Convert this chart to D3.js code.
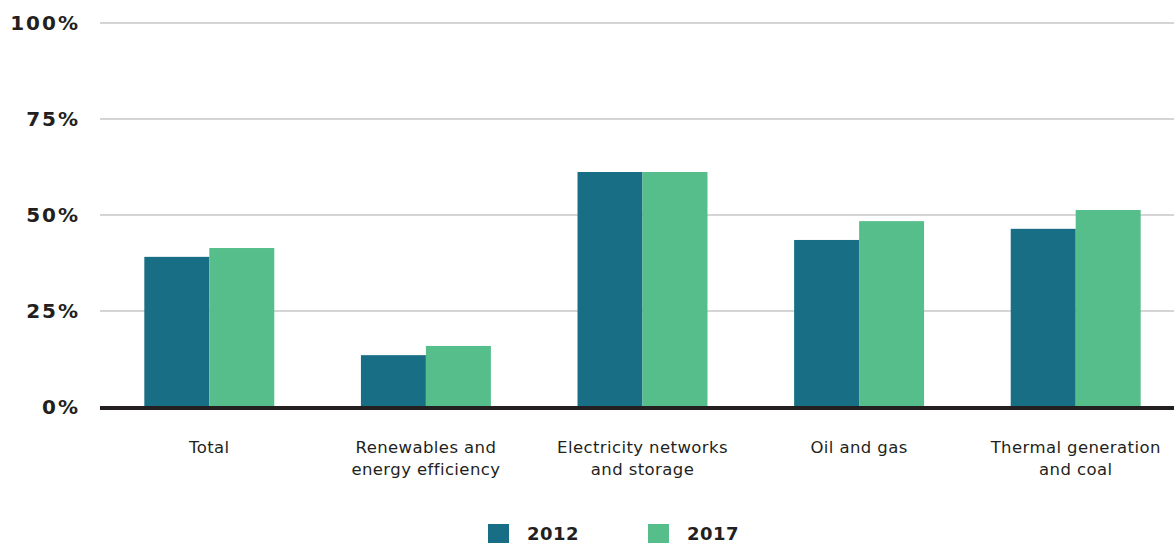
<!DOCTYPE html>
<html><head><meta charset="utf-8">
<script src="https://cdn.jsdelivr.net/npm/d3@7"></script>
<style>
body{margin:0;background:#fff;}
svg{display:block;}
</style></head><body>
<svg id="chart" width="1174" height="543"></svg>
<script>
const categories = [["Total"],["Renewables and","energy efficiency"],["Electricity networks","and storage"],["Oil and gas"],["Thermal generation","and coal"]];
const seriesNames = ["2012","2017"];
const values2012 = [39.1, 13.5, 61.2, 43.5, 46.4];
const values2017 = [41.4, 15.9, 61.2, 48.4, 51.3];
const yTicks = [0,25,50,75,100];
const colors = ["#186e85","#56be8a"];

const svg = d3.select("#chart");
const catKeys = categories.map(c=>c.join(" "));
const x = d3.scaleBand().domain(catKeys).range([101,1184]).paddingInner(0.4).paddingOuter(0.2);
const xs = d3.scaleBand().domain(seriesNames).range([0,x.bandwidth()]);
const y = d3.scaleLinear().domain([0,100]).range([407,23]);

// gridlines
svg.append("g").selectAll("line").data(yTicks.filter(d=>d>0)).join("line")
  .attr("x1",100).attr("x2",1174).attr("y1",d=>y(d)).attr("y2",d=>y(d))
  .attr("stroke","#d5d5d5").attr("stroke-width",2);

// y labels
svg.append("g").selectAll("text").data(yTicks).join("text")
  .attr("x",80).attr("y",d=>y(d)).attr("dy","0.36em").attr("text-anchor","end")
  .attr("font-family","DejaVu Sans").attr("font-weight","bold").attr("font-size",20)
  .attr("letter-spacing",2).attr("fill","#231f20").text(d=>d+"%");

const data = catKeys.map((k,i)=>({k, vals:[values2012[i],values2017[i]]}));
const g = svg.append("g").selectAll("g").data(data).join("g").attr("transform",d=>`translate(${x(d.k)},0)`);
g.selectAll("rect").data(d=>d.vals.map((v,j)=>({v,s:seriesNames[j],j}))).join("rect")
  .attr("x",d=>xs(d.s)).attr("width",xs.bandwidth())
  .attr("y",d=>y(d.v)).attr("height",d=>y(0)-y(d.v)).attr("fill",d=>colors[d.j]);

// baseline
svg.append("line").attr("x1",100).attr("x2",1174).attr("y1",y(0)+1).attr("y2",y(0)+1)
  .attr("stroke","#231f20").attr("stroke-width",4);

// category labels
const lab = svg.append("g").selectAll("text").data(categories).join("text")
  .attr("text-anchor","middle").attr("font-family","DejaVu Sans").attr("font-size",16.5)
  .attr("letter-spacing",0.4).attr("fill","#231f20")
  .attr("transform",(d,i)=>`translate(${x(catKeys[i])+x.bandwidth()/2},453)`);
lab.selectAll("tspan").data(d=>d).join("tspan").attr("x",0).attr("dy",(d,i)=>i?22:0).text(d=>d);

// legend
const legX = [488,648];
const leg = svg.append("g").selectAll("g").data(seriesNames).join("g")
  .attr("transform",(d,i)=>`translate(${legX[i]},524)`);
leg.append("rect").attr("width",21).attr("height",19).attr("fill",(d,i)=>colors[i]);
leg.append("text").attr("x",39).attr("y",10).attr("dy","0.36em")
  .attr("font-family","DejaVu Sans").attr("font-weight","bold").attr("font-size",18)
  .attr("letter-spacing",0.5).attr("fill","#231f20").text(d=>d);
</script>
</body></html>
